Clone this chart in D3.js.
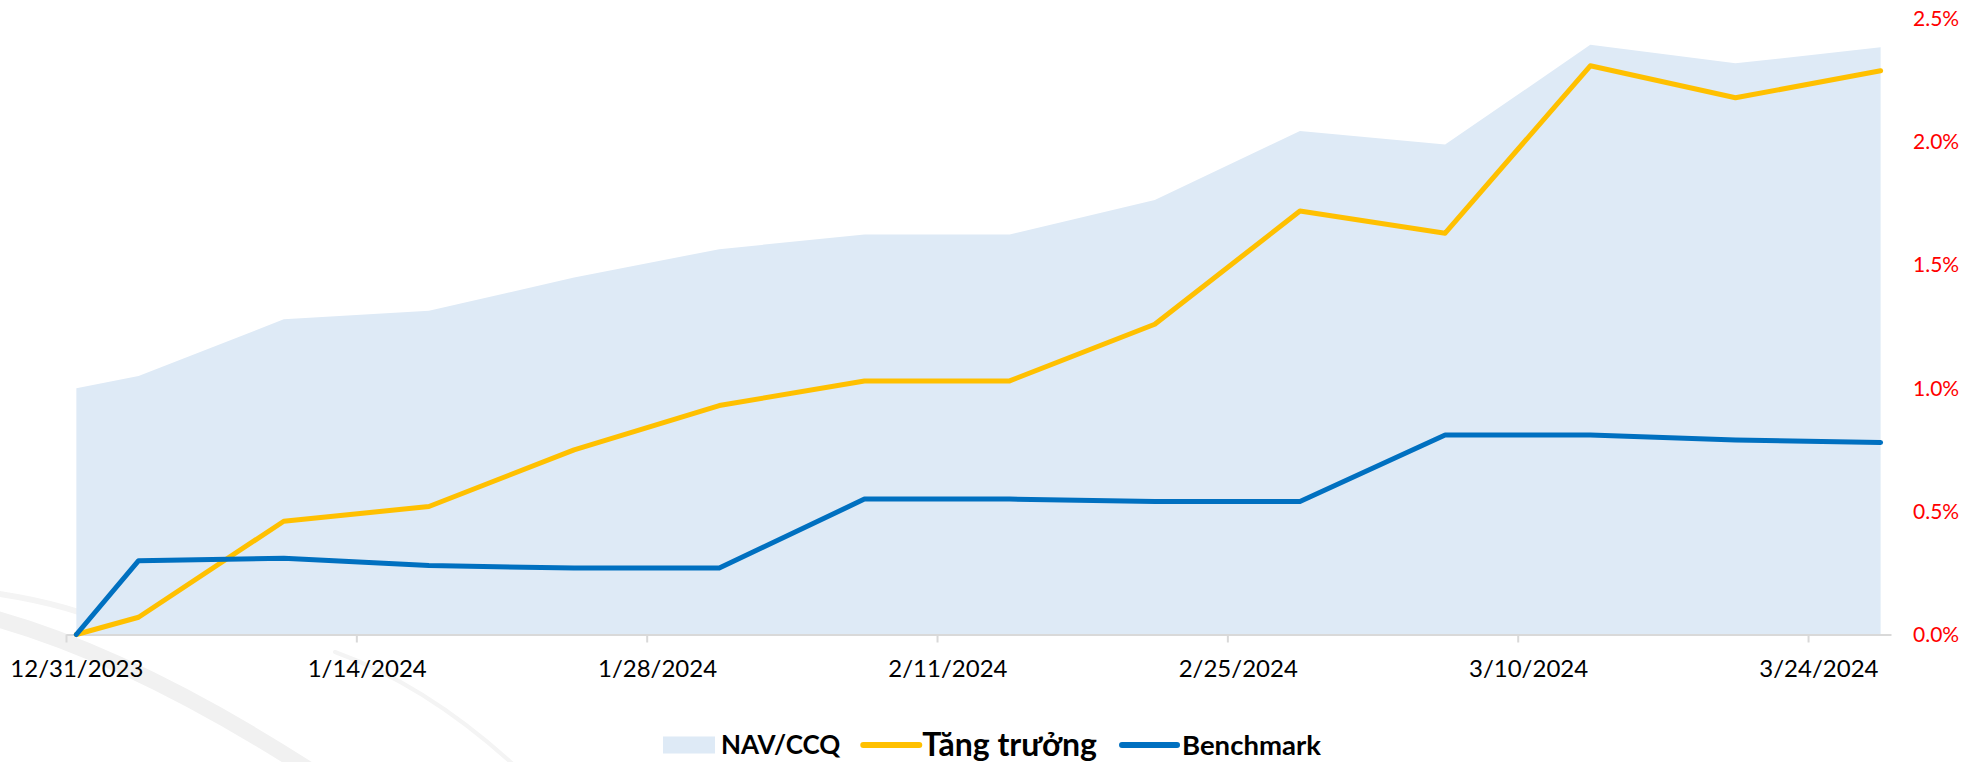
<!DOCTYPE html>
<html>
<head>
<meta charset="utf-8">
<script src="https://cdn.jsdelivr.net/npm/d3@7"></script>
<style>
  html, body { margin: 0; padding: 0; background: #fff; }
  svg { display: block; }
</style>
</head>
<body>
<div id="chart"></div>
<script>
// weekly data points, first week is short
const dates = ["2023-12-31", "2024-01-03", "2024-01-10", "2024-01-17", "2024-01-24", "2024-01-31", "2024-02-07",
               "2024-02-14", "2024-02-21", "2024-02-28", "2024-03-06", "2024-03-13", "2024-03-20", "2024-03-27"];
const navValues = [12000, 12010, 12056, 12063, 12090, 12113, 12125, 12125, 12153, 12209, 12198, 12279, 12264, 12277];
const growthValues = [0, 0.07, 0.46, 0.52, 0.75, 0.93, 1.03, 1.03, 1.26, 1.72, 1.63, 2.31, 2.18, 2.29];       // %
const benchmarkValues = [0, 0.30, 0.31, 0.28, 0.27, 0.27, 0.55, 0.55, 0.54, 0.54, 0.81, 0.81, 0.79, 0.78];   // %
const xTickLabels = ["2023-12-31", "2024-01-14", "2024-01-28", "2024-02-11", "2024-02-25", "2024-03-10", "2024-03-24"];
const pctTicks = [0, 0.5, 1.0, 1.5, 2.0, 2.5];
const navDomain = [11800, 12300];   // hidden left axis
const legendItems = ["NAV/CCQ", "Tăng trưởng", "Benchmark"];

const width = 1969;
const height = 762;
const plot = { left: 66, right: 1891, top: 19, bottom: 634.5 };

const parse = d3.utcParse("%Y-%m-%d");
const fmtDate = d3.utcFormat("%-m/%-d/%Y");
const rows = dates.map((d, i) => ({
    date: parse(d), nav: navValues[i], growth: growthValues[i], bench: benchmarkValues[i]
}));

const svg = d3.select("#chart").append("svg")
    .attr("width", width)
    .attr("height", height);

// faint watermark swooshes bottom-left
const wm = svg.append("g").attr("fill", "none").attr("stroke-linecap", "round");
wm.append("path").attr("d", "M -30,612 Q 130,650 340,790").attr("stroke", "#f1f1f1").attr("stroke-width", 16);
wm.append("path").attr("d", "M -30,590 Q 60,600 120,628").attr("stroke", "#f4f4f4").attr("stroke-width", 6);
wm.append("path").attr("d", "M 335,652 Q 440,690 540,790").attr("stroke", "#f4f4f4").attr("stroke-width", 4);

// x: date axis, each day owns a slot, points sit in the middle of it
const x0 = d3.utcHour.offset(rows[0].date, -12);
const x1 = d3.utcHour.offset(rows[rows.length - 1].date, 12);
const x = d3.scaleUtc().domain([x0, x1]).range([plot.left, plot.right]);
const halfDay = (x(d3.utcDay.offset(rows[0].date, 1)) - x(rows[0].date)) / 2;

const yPct = d3.scaleLinear().domain([0, 2.5]).range([plot.bottom, plot.top]);
const yNav = d3.scaleLinear().domain(navDomain).range([plot.bottom, plot.top]);

// NAV area
const area = d3.area()
    .x(d => x(d.date))
    .y0(plot.bottom)
    .y1(d => yNav(d.nav));

svg.append("path")
    .datum(rows)
    .attr("fill", "#deeaf6")
    .attr("d", area);

// x axis
const xAxis = svg.append("g")
    .attr("transform", `translate(0,${plot.bottom})`)
    .call(d3.axisBottom(x)
        .tickValues(xTickLabels.map(parse))
        .tickFormat(fmtDate)
        .tickSize(8)
        .tickSizeOuter(0));

xAxis.select(".domain").attr("stroke", "#d9d9d9").attr("stroke-width", 2);
xAxis.selectAll(".tick line")
    .attr("stroke", "#d9d9d9")
    .attr("stroke-width", 2)
    .attr("transform", `translate(${-halfDay},0)`);
xAxis.selectAll(".tick text")
    .attr("y", 34)
    .attr("dy", "0.35em")
    .attr("fill", "#000")
    .style("font-family", "Lato, 'Noto Sans', sans-serif")
    .style("font-size", "24px");

// right percent axis, labels only
const yAxis = svg.append("g")
    .attr("transform", `translate(${plot.right + 22},0)`)
    .call(d3.axisRight(yPct)
        .tickValues(pctTicks)
        .tickFormat(d => d.toFixed(1) + "%")
        .tickSize(0)
        .tickPadding(0));
yAxis.select(".domain").remove();
yAxis.selectAll(".tick text")
    .attr("fill", "#ff0000")
    .style("font-family", "Lato, 'Noto Sans', sans-serif")
    .style("font-size", "21px");

// lines
const lineGrowth = d3.line().x(d => x(d.date)).y(d => yPct(d.growth));
const lineBench = d3.line().x(d => x(d.date)).y(d => yPct(d.bench));

svg.append("path")
    .datum(rows)
    .attr("fill", "none")
    .attr("stroke", "#ffc000")
    .attr("stroke-width", 5)
    .attr("stroke-linejoin", "round")
    .attr("stroke-linecap", "round")
    .attr("d", lineGrowth);

svg.append("path")
    .datum(rows)
    .attr("fill", "none")
    .attr("stroke", "#0070c0")
    .attr("stroke-width", 5)
    .attr("stroke-linejoin", "round")
    .attr("stroke-linecap", "round")
    .attr("d", lineBench);

// legend, laid out left to right
const legend = svg.append("g").attr("transform", "translate(0,745)");
const legendFont = "Lato, 'Noto Sans', sans-serif";
let cx = 663;

legend.append("rect")
    .attr("x", cx).attr("y", -8.5)
    .attr("width", 52).attr("height", 17)
    .attr("fill", "#deeaf6");
cx += 58;
let t = legend.append("text")
    .attr("x", cx).attr("dy", "0.35em")
    .style("font-family", legendFont).style("font-weight", "bold").style("font-size", "26px")
    .text(legendItems[0]);
cx += t.node().getComputedTextLength() + 23;

legend.append("line")
    .attr("x1", cx).attr("x2", cx + 56)
    .attr("stroke", "#ffc000").attr("stroke-width", 6).attr("stroke-linecap", "round");
cx += 59;
t = legend.append("text")
    .attr("x", cx).attr("dy", "0.35em")
    .style("font-family", legendFont).style("font-weight", "bold").style("font-size", "32px")
    .text(legendItems[1]);
cx += t.node().getComputedTextLength() + 25;

legend.append("line")
    .attr("x1", cx).attr("x2", cx + 55)
    .attr("stroke", "#0070c0").attr("stroke-width", 6).attr("stroke-linecap", "round");
cx += 60;
legend.append("text")
    .attr("x", cx).attr("dy", "0.35em")
    .style("font-family", legendFont).style("font-weight", "bold").style("font-size", "27.5px")
    .text(legendItems[2]);
</script>
</body>
</html>
